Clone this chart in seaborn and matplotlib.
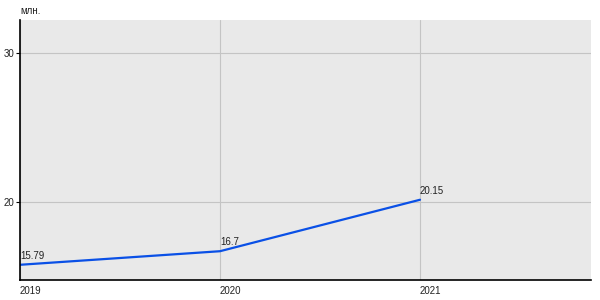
import matplotlib
matplotlib.use("Agg")
import matplotlib.pyplot as plt
import seaborn as sns
import pandas as pd

years = [2019, 2020, 2021]
values = [15.79, 16.7, 20.15]
labels = ["15.79", "16.7", "20.15"]
y_ticks = [20, 30]
unit = "млн."

sns.set_theme(style="white")
plt.rcParams['font.family'] = ['Liberation Sans', 'DejaVu Sans']

df = pd.DataFrame({"year": years, "value": values})

fig = plt.figure(figsize=(6, 3), dpi=100)
ax = fig.add_axes([20/600, 20/300, 571/600, 260/300])
ax.set_facecolor("#e9e9e9")

sns.lineplot(data=df, x="year", y="value", ax=ax, color="#0a50e6", linewidth=1.6)

for x, y, t in zip(years, values, labels):
    ax.annotate(t, (x, y), xytext=(0, 3), textcoords="offset points",
                ha="left", va="bottom", fontsize=7, color="#222222")

ax.set_xlim(2019, 2021.855)
ax.set_ylim(14.77, 32.2)
ax.set_xticks(years)
ax.set_xticklabels([str(y) for y in years], ha="left")
ax.set_yticks(y_ticks)
ax.set_yticklabels([str(v) for v in y_ticks])
ax.grid(True, color="#c4c4c4", linewidth=0.8)
ax.set_axisbelow(True)
ax.set_xlabel("")
ax.set_ylabel("")
for s in ["top", "right"]:
    ax.spines[s].set_visible(False)
for s in ["left", "bottom"]:
    ax.spines[s].set_color("black")
    ax.spines[s].set_linewidth(1.2)
ax.tick_params(axis="y", which="both", length=3, width=0.8, color="black",
               labelsize=7, pad=1, left=True)
ax.tick_params(axis="x", which="both", length=0, labelsize=7, pad=4)
for lab in ax.get_xticklabels() + ax.get_yticklabels():
    lab.set_color("#222222")

fig.text(20/600, 1 - 11/300, unit, fontsize=7, color="#222222", ha="left", va="center")

fig.savefig("out.png", dpi=100)
